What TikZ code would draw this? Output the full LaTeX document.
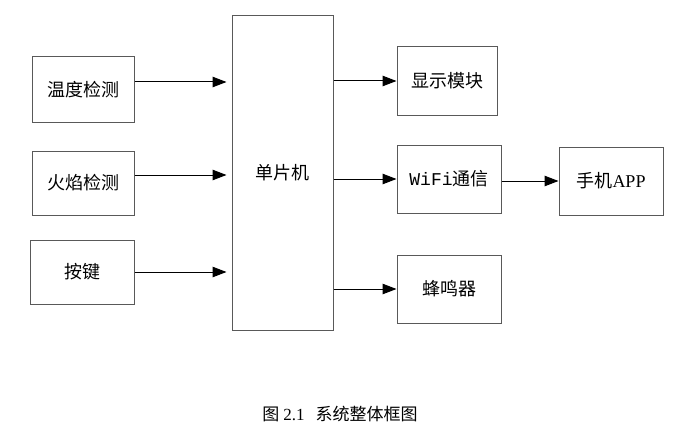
\documentclass[tikz,border=0pt]{standalone}
\usepackage{fontspec}
\setmainfont{Liberation Serif}
\newfontfamily\cjk{Noto Sans CJK SC}
\newfontfamily\half{Liberation Mono}
\usetikzlibrary{arrows.meta}

\begin{document}
\begin{tikzpicture}[x = 1pt, y = -1pt,
        box/.style = {draw = black!65, line width = 1pt, inner sep = 0pt, font = \cjk\fontsize{18}{21}\selectfont},
        arr/.style = {-{Triangle[length = 14pt, width = 10.5pt]}, line width = 1pt}]
    \useasboundingbox (0, 0) rectangle (700, 433);
    % inputs
    \node[box, minimum width = 102pt, minimum height = 65pt] (wd) at (83, 89.5) {温度检测};
    \node[box, minimum width = 102pt, minimum height = 64pt] (hy) at (83, 183) {火焰检测};
    \node[box, minimum width = 104pt, minimum height = 64pt] (aj) at (82, 272) {按键};
    % controller
    \node[box, minimum width = 101pt, minimum height = 314pt] (mcu) at (282.5, 173) {单片机};
    % outputs
    \node[box, minimum width = 100pt, minimum height = 68pt] (xs) at (447, 81) {显示模块};
    \node[box, minimum width = 104pt, minimum height = 68pt] (wifi) at (449, 179) {{\half WiFi}通信};
    \node[box, minimum width = 104pt, minimum height = 68pt] (fmq) at (449, 289) {蜂鸣器};
    \node[box, minimum width = 104pt, minimum height = 68pt] (app) at (611, 181) {手机{\rmfamily APP}};
    \foreach \a/\s in {wd/7.5, hy/8, aj/0}
        \draw[arr, shorten >= 5pt] ([yshift = \s pt]\a.east) -- ([yshift = \s pt]\a.east -| mcu.west);
    \foreach \b in {xs, wifi, fmq}
        \draw[arr] (mcu.east |- \b.west) -- (\b.west);
    \draw[arr] (wifi.east |- app.west) -- (app.west);
    \node[font = \cjk\fontsize{17}{20}\selectfont] (cap) at (340, 414) {图 {\rmfamily 2.1}\hspace{11pt}系统整体框图};
\end{tikzpicture}
\end{document}
